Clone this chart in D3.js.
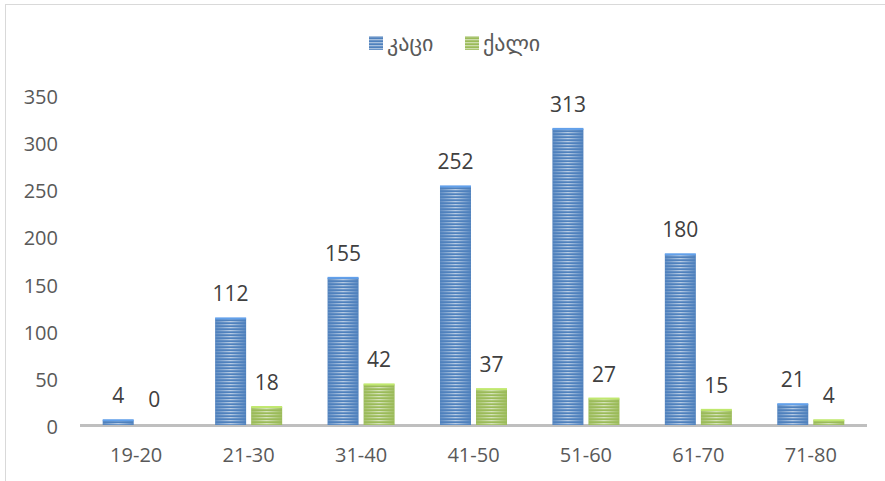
<!DOCTYPE html>
<html>
<head>
<meta charset="utf-8">
<script src="https://cdn.jsdelivr.net/npm/d3@7"></script>
<style>
  body { margin: 0; background: #fff; }
  svg text { font-family: "Open Sans", "DejaVu Sans", sans-serif; }
</style>
</head>
<body>
<div id="chart"></div>
<script>
const categories = ["19-20", "21-30", "31-40", "41-50", "51-60", "61-70", "71-80"];
const seriesNames = ["კაცი", "ქალი"];
const men = [4, 112, 155, 252, 313, 180, 21];
const women = [0, 18, 42, 37, 27, 15, 4];
const yTicks = [0, 50, 100, 150, 200, 250, 300, 350];
const colors = ["#4f81bd", "#9bbb59"];

const width = 885, height = 481;
const svg = d3.select("#chart").append("svg")
    .attr("width", width)
    .attr("height", height);

// chart frame
svg.append("rect")
    .attr("x", 5.5).attr("y", 4.5)
    .attr("width", width).attr("height", height)
    .style("fill", "none")
    .style("stroke", "#d9d9d9");

const defs = svg.append("defs");

// horizontal stripes
const stripe = defs.append("pattern")
    .attr("id", "stripes")
    .attr("patternUnits", "userSpaceOnUse")
    .attr("width", 6).attr("height", 3);
stripe.append("rect").attr("width", 6).attr("height", 1.3).style("fill", "#fff");

// mask: stripes strongest in the middle of a bar
const grad = defs.append("linearGradient").attr("id", "midGlow")
    .attr("x1", 0).attr("x2", 1).attr("y1", 0).attr("y2", 0);
grad.append("stop").attr("offset", "0%").attr("stop-color", "#fff").attr("stop-opacity", 0.1);
grad.append("stop").attr("offset", "50%").attr("stop-color", "#fff").attr("stop-opacity", 0.6);
grad.append("stop").attr("offset", "100%").attr("stop-color", "#fff").attr("stop-opacity", 0.05);

const mask = defs.append("mask").attr("id", "stripeMask")
    .attr("maskContentUnits", "objectBoundingBox");
mask.append("rect").attr("width", 1).attr("height", 1).style("fill", "url(#midGlow)");

const margin = { top: 95, left: 80, right: 18, bottom: 56 };
const x0 = d3.scaleBand()
    .domain(categories)
    .range([margin.left, width - margin.right])
    .paddingInner(0)
    .paddingOuter(0);
const x1 = d3.scaleBand()
    .domain(seriesNames)
    .range([0, x0.bandwidth()])
    .paddingInner(0.14)
    .paddingOuter(0.63);
const y = d3.scaleLinear()
    .domain([0, 350])
    .range([height - margin.bottom, margin.top]);

// y tick labels
svg.selectAll(".ytick")
    .data(yTicks)
    .enter()
    .append("text")
    .attr("x", 58)
    .attr("y", d => y(d) + 2)
    .attr("dy", "0.35em")
    .attr("text-anchor", "end")
    .style("font-size", "20px")
    .style("fill", "#595959")
    .text(d => d);

// x tick labels
svg.selectAll(".xtick")
    .data(categories)
    .enter()
    .append("text")
    .attr("x", d => x0(d) + x0.bandwidth() / 2)
    .attr("y", y(0) + 30)
    .attr("dy", "0.35em")
    .attr("text-anchor", "middle")
    .style("font-size", "20px")
    .style("fill", "#595959")
    .text(d => d);

const series = [men, women];
const rows = [];
series.forEach((vals, s) => {
    vals.forEach((v, i) => rows.push({ cat: categories[i], name: seriesNames[s], s: s, value: v }));
});

// baseline
svg.append("line")
    .attr("x1", x0.range()[0]).attr("x2", x0.range()[1])
    .attr("y1", y(0) + 0.5).attr("y2", y(0) + 0.5)
    .style("stroke", "#bfbfbf")
    .style("stroke-width", 3);

const bars = svg.selectAll(".bar")
    .data(rows.filter(d => d.value > 0))
    .enter()
    .append("g")
    .attr("transform", d => `translate(${x0(d.cat) + x1(d.name)},0)`);

bars.append("rect")
    .attr("y", d => y(d.value) - 1)
    .attr("width", x1.bandwidth())
    .attr("height", d => y(0) - y(d.value) + 1)
    .style("fill", d => colors[d.s]);

bars.append("rect")
    .attr("y", d => y(d.value) - 1)
    .attr("width", x1.bandwidth())
    .attr("height", d => y(0) - y(d.value) + 1)
    .attr("mask", "url(#stripeMask)")
    .style("fill", "url(#stripes)");

bars.append("rect")
    .attr("y", d => y(d.value) - 2)
    .attr("width", x1.bandwidth())
    .attr("height", 2)
    .style("fill", d => d3.color(colors[d.s]).brighter(0.6));

// value labels
svg.selectAll(".val")
    .data(rows)
    .enter()
    .append("text")
    .attr("x", d => x0(d.cat) + x1(d.name) + x1.bandwidth() / 2)
    .attr("y", d => y(d.value) - 18)
    .attr("text-anchor", "middle")
    .style("font-size", "21px")
    .style("fill", "#404040")
    .text(d => d.value);

// legend
const legendPos = [369, 465];
const legend = svg.selectAll(".legend")
    .data(seriesNames)
    .enter()
    .append("g")
    .attr("transform", (d, i) => `translate(${legendPos[i]},36)`);

legend.append("rect")
    .attr("width", 14).attr("height", 14)
    .style("fill", (d, i) => colors[i]);
legend.append("rect")
    .attr("width", 14).attr("height", 14)
    .style("fill", "url(#stripes)")
    .style("opacity", 0.5);
legend.append("text")
    .attr("x", 18)
    .attr("y", 7)
    .attr("dy", "0.35em")
    .style("font-size", "22px")
    .style("fill", "#595959")
    .style("font-family", "'DejaVu Sans', sans-serif")
    .text(d => d);
</script>
</body>
</html>
